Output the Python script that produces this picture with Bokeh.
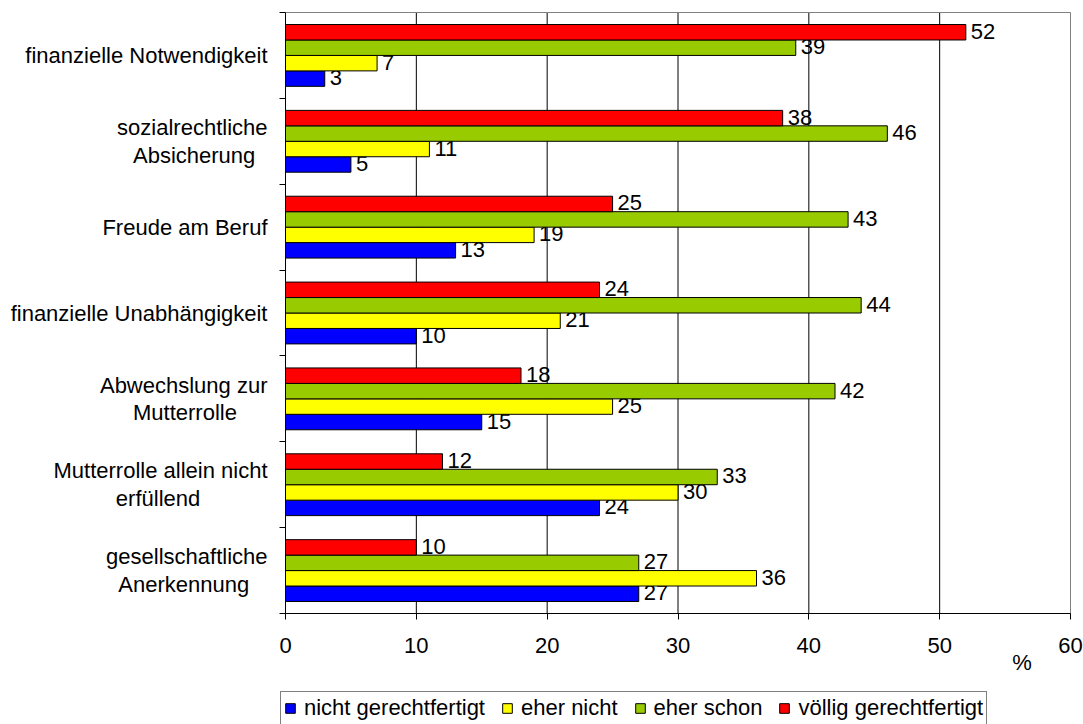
from bokeh.plotting import figure
from bokeh.models import (ColumnDataSource, Range1d, FixedTicker, Legend, LegendItem, Label)
from bokeh.transform import dodge
from bokeh.core.properties import value
from bokeh.embed import file_html
from bokeh.resources import INLINE

categories = [
    "finanzielle Notwendigkeit",
    "sozialrechtliche\nAbsicherung",
    "Freude am Beruf",
    "finanzielle Unabhängigkeit",
    "Abwechslung zur\nMutterrolle",
    "Mutterrolle allein nicht\nerfüllend",
    "gesellschaftliche\nAnerkennung",
]
series_names = ["nicht gerechtfertigt", "eher nicht", "eher schon", "völlig gerechtfertigt"]
nicht_gerechtfertigt = [3, 5, 13, 10, 15, 24, 27]
eher_nicht = [7, 11, 19, 21, 25, 30, 36]
eher_schon = [39, 46, 43, 44, 42, 33, 27]
voellig_gerechtfertigt = [52, 38, 25, 24, 18, 12, 10]
x_ticks = [0, 10, 20, 30, 40, 50, 60]
unit_label = "%"

# layout only: non-breaking spaces that centre the second line under the first
label_pad = [0, 2, 0, 0, 5, 11, 3]

FONT = "Liberation Sans"
FS = "22px"
NBSP = "\u00a0"

n = len(categories)
xmax = x_ticks[-1]
pos = [n - 1 - i + 0.5 for i in range(n)]
src = ColumnDataSource(dict(
    pos=pos,
    s0=nicht_gerechtfertigt, s1=eher_nicht, s2=eher_schon, s3=voellig_gerechtfertigt,
    t0=[str(v) for v in nicht_gerechtfertigt], t1=[str(v) for v in eher_nicht],
    t2=[str(v) for v in eher_schon], t3=[str(v) for v in voellig_gerechtfertigt],
))

# canvas geometry in pixels; the whole canvas is the plotting frame
W, H = 1083, 724
left_px, right_px = 285, 1070        # x = 0 and x = 60
top_px, axis_px = 12, 613            # y = n and y = 0
xs = (right_px - left_px) / xmax
ys = (axis_px - top_px) / n
x_start = -left_px / xs
x_end = (W - left_px) / xs
y_end = n + top_px / ys
y_start = -(H - axis_px) / ys

p = figure(width=W, height=H, output_backend="svg", toolbar_location=None,
           x_range=Range1d(x_start, x_end), y_range=Range1d(y_start, y_end),
           min_border=0, min_border_left=0, min_border_right=0,
           min_border_top=0, min_border_bottom=0)
p.outline_line_color = None
p.background_fill_color = "white"
p.border_fill_color = "white"
p.xgrid.grid_line_color = None
p.ygrid.grid_line_color = None

# vertical grid lines inside the plot area
grid_x = x_ticks[1:-1]
p.segment(x0=grid_x, y0=[0] * len(grid_x), x1=grid_x, y1=[n] * len(grid_x),
          line_color="black", line_width=1)
# plot-area border
p.quad(left=[0], right=[xmax], bottom=[0], top=[n], fill_color=None,
       line_color="#808080", line_width=1)

colors = ["#0000FF", "#FFFF00", "#99CC00", "#FF0000"]
offsets = [-0.27, -0.09, 0.09, 0.27]
bh = 0.18
renderers = []
for k in range(4):
    r = p.hbar(y=dodge("pos", offsets[k], range=p.y_range), right=f"s{k}", left=0,
               height=bh, source=src, fill_color=colors[k], line_color="black", line_width=1)
    renderers.append(r)
    p.text(x=f"s{k}", y=dodge("pos", offsets[k], range=p.y_range), text=f"t{k}", source=src,
           x_offset=5, y_offset=-1, text_baseline="middle", text_align="left",
           text_font=value(FONT), text_font_size=FS, text_color="black")

# x axis drawn at y = 0
p.xaxis.fixed_location = 0
p.xaxis.bounds = (0, xmax)
p.xaxis.ticker = FixedTicker(ticks=x_ticks, minor_ticks=[])
p.xaxis.major_tick_out = 6
p.xaxis.major_tick_in = 0
p.xaxis.axis_line_color = "black"
p.xaxis.major_tick_line_color = "black"
p.xaxis.major_label_text_font = FONT
p.xaxis.major_label_text_font_size = FS
p.xaxis.major_label_text_color = "black"
p.xaxis.major_label_standoff = 18

# y axis drawn at x = 0
labels = []
for c, pad in zip(categories, label_pad):
    labels.append(c + NBSP * pad if "\n" in c else c)
p.yaxis.fixed_location = 0
p.yaxis.bounds = (0, n)
p.yaxis.ticker = FixedTicker(ticks=pos, minor_ticks=list(range(n + 1)))
p.yaxis.major_label_overrides = {pp: c for pp, c in zip(pos, labels)}
p.yaxis.major_tick_out = 0
p.yaxis.major_tick_in = 0
p.yaxis.minor_tick_out = 6
p.yaxis.minor_tick_in = 0
p.yaxis.minor_tick_line_color = "black"
p.yaxis.axis_line_color = "black"
p.yaxis.major_label_text_font = FONT
p.yaxis.major_label_text_font_size = FS
p.yaxis.major_label_text_color = "black"
p.yaxis.major_label_text_line_height = 1.1
p.yaxis.major_label_standoff = 12

# unit label "%"
p.add_layout(Label(x=56.3, y=-49 / ys, text=unit_label, text_font=FONT, text_font_size=FS,
                   text_align="center", text_baseline="middle", text_color="black"))

legend = Legend(items=[LegendItem(label=series_names[k], renderers=[renderers[k]]) for k in range(4)],
                orientation="horizontal", location=(280, -1),
                label_text_font=FONT, label_text_font_size=FS, label_text_color="black",
                glyph_width=12, glyph_height=12, label_standoff=8, spacing=16,
                padding=3, margin=0, border_line_color="black", border_line_width=1,
                background_fill_color="white", background_fill_alpha=1)
p.add_layout(legend, "center")

open("out.html", "w").write(file_html(p, INLINE))
